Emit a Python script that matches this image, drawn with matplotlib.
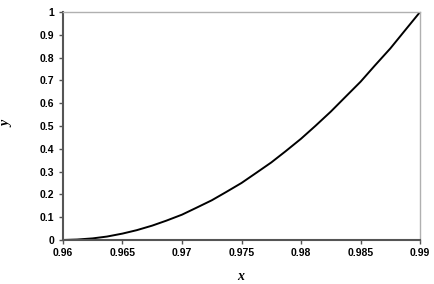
import matplotlib
matplotlib.use("Agg")
import matplotlib.pyplot as plt

x_vals = [0.96, 0.9612, 0.9625, 0.9637, 0.965, 0.9662, 0.9675, 0.9687, 0.97, 0.9712, 0.9725, 0.9737,
          0.975, 0.9762, 0.9775, 0.9787, 0.98, 0.9812, 0.9825, 0.9837, 0.985, 0.9862, 0.9875, 0.9887, 0.99]
y_vals = [0.0, 0.002, 0.007, 0.015, 0.028, 0.043, 0.063, 0.085, 0.111, 0.141, 0.174, 0.210,
          0.25, 0.293, 0.34, 0.389, 0.444, 0.500, 0.563, 0.626, 0.694, 0.765, 0.84, 0.917, 1.0]
x_ticks = [0.96, 0.965, 0.97, 0.975, 0.98, 0.985, 0.99]
x_tick_labels = ["0.96", "0.965", "0.97", "0.975", "0.98", "0.985", "0.99"]
y_ticks = [0, 0.1, 0.2, 0.3, 0.4, 0.5, 0.6, 0.7, 0.8, 0.9, 1]
y_tick_labels = ["0", "0.1", "0.2", "0.3", "0.4", "0.5", "0.6", "0.7", "0.8", "0.9", "1"]

fig = plt.figure(figsize=(4.34, 2.84), dpi=100)
ax = fig.add_axes([0.145, 0.155, 0.823, 0.803])
ax.plot(x_vals, y_vals, color="black", linewidth=1.4)
ax.set_xlim(0.96, 0.99)
ax.set_ylim(0, 1)
ax.set_xticks(x_ticks)
ax.set_xticklabels(x_tick_labels)
ax.set_yticks(y_ticks)
ax.set_yticklabels(y_tick_labels)
for lab in ax.get_xticklabels() + ax.get_yticklabels():
    lab.set_fontfamily("Liberation Sans")
    lab.set_fontweight("bold")
    lab.set_fontsize(7.5)
ax.tick_params(direction="out", length=3, width=1, color="#555555", pad=3)
ax.spines["left"].set_color("#555555")
ax.spines["bottom"].set_color("#555555")
ax.spines["left"].set_linewidth(1.5)
ax.spines["bottom"].set_linewidth(1.5)
ax.spines["top"].set_color("#b0b0b0")
ax.spines["right"].set_color("#b0b0b0")
ax.spines["top"].set_linewidth(1.0)
ax.spines["right"].set_linewidth(1.0)
ax.set_xlabel("x", fontfamily="Liberation Serif", fontstyle="italic", fontweight="bold", fontsize=10)
ax.set_ylabel("y", fontfamily="Liberation Serif", fontstyle="italic", fontweight="bold", fontsize=10)
ax.xaxis.set_label_coords(0.497, -0.13)
ax.yaxis.set_label_coords(-0.14, 0.51)
fig.savefig("out.png", dpi=100)
